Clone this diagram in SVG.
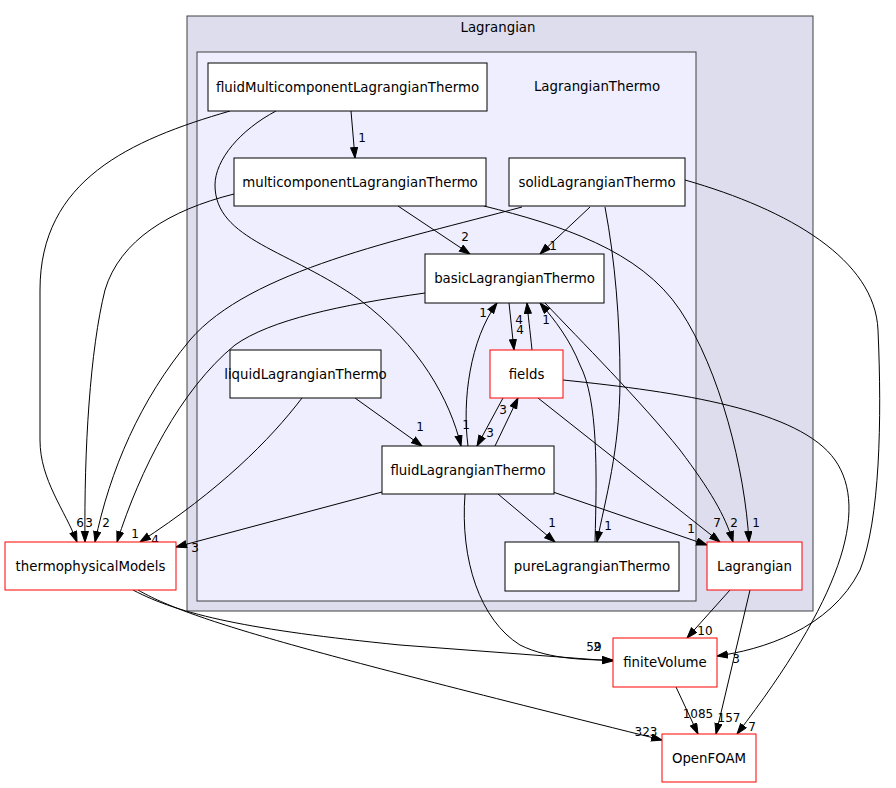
<svg xmlns="http://www.w3.org/2000/svg" width="896" height="788" viewBox="0 0 896 788">
<defs>
<marker id="ah" markerWidth="12" markerHeight="10" refX="11" refY="4" orient="auto" markerUnits="userSpaceOnUse">
<path d="M0.5,0.5 L11,4 L0.5,7.5 z" fill="#000" stroke="#000" stroke-width="1"/>
</marker>
<style>
text{font-family:"DejaVu Sans","Liberation Sans",sans-serif;fill:#000}
.nt{font-size:13.33px;text-anchor:middle}
.lb{font-size:12px;text-anchor:middle}
.nb{fill:#fff;stroke:#000;stroke-width:1}
.nr{fill:#fff;stroke:#ff0000;stroke-width:1}
.e{fill:none;stroke:#000;stroke-width:1;marker-end:url(#ah)}
</style>
</defs>
<rect width="896" height="788" fill="#fff"/>
<g id="cluster_Lagrangian">
<rect x="187" y="16" width="626" height="595" fill="#ddddee" stroke="#404040"/>
<text class="nt" x="498" y="32">Lagrangian</text>
</g>
<g id="cluster_LagrangianThermo">
<rect x="197" y="52" width="499" height="549" fill="#eeeeff" stroke="#404040"/>
<text class="nt" x="597" y="91">LagrangianThermo</text>
</g>
<g id="edges">
<path class="e" d="M351,111 L355,158"/>
<path class="e" d="M230,111 C130,140 40,180 40,290 L40,440 C40,480 65,510 77,542"/>
<path class="e" d="M276,111 C240,130 215,160 215,185 C215,240 290,250 360,300 C420,345 450,400 461,446"/>
<path class="e" d="M234,194 C170,210 120,240 105,290 C90,350 84,450 85,542"/>
<path class="e" d="M398,206 L470,254"/>
<path class="e" d="M484,206 C560,225 640,250 680,310 C720,370 745,470 749,542"/>
<path class="e" d="M590,207 L540,254"/>
<path class="e" d="M522,207 C400,240 250,270 190,340 C140,400 110,470 95,542"/>
<path class="e" d="M605,207 C615,260 620,320 620,380 C620,450 605,500 597,542"/>
<path class="e" d="M685,180 C790,210 875,260 878,330 C882,420 880,520 860,570 C830,630 760,650 717,656"/>
<path class="e" d="M509,303 L514,350"/>
<path class="e" d="M532,350 C530,330 528,315 527,303"/>
<path class="e" d="M425,293 C340,305 270,320 235,345 C180,390 140,470 117,542"/>
<path class="e" d="M545,303 C580,340 640,400 680,450 C710,490 725,515 733,542"/>
<path class="e" d="M595,542 C597,470 598,400 580,365 C570,340 555,320 540,303"/>
<path class="e" d="M468,446 C462,400 470,340 497,303"/>
<path class="e" d="M503,398 L477,446"/>
<path class="e" d="M495,446 L518,398"/>
<path class="e" d="M355,398 L422,446"/>
<path class="e" d="M302,398 C270,440 220,490 140,542"/>
<path class="e" d="M538,398 L720,542"/>
<path class="e" d="M563,380 C680,392 800,410 835,460 C870,510 840,600 737,734"/>
<path class="e" d="M382,492 L176,547"/>
<path class="e" d="M498,494 L555,542"/>
<path class="e" d="M553,492 L707,545"/>
<path class="e" d="M465,494 C460,560 480,620 520,645 C550,660 590,660 613,660"/>
<path class="e" d="M133,590 C180,615 250,630 400,645 L613,661"/>
<path class="e" d="M138,590 C190,620 300,650 662,740"/>
<path class="e" d="M730,590 L687,638"/>
<path class="e" d="M750,590 L716,734"/>
<path class="e" d="M676,687 L698,734"/>
<text class="lb" x="362" y="142">1</text>
<text class="lb" x="80" y="527">6</text>
<text class="lb" x="89" y="527">3</text>
<text class="lb" x="106" y="527">2</text>
<text class="lb" x="135" y="538">1</text>
<text class="lb" x="155" y="544">4</text>
<text class="lb" x="195" y="552">3</text>
<text class="lb" x="466" y="429">1</text>
<text class="lb" x="465" y="241">2</text>
<text class="lb" x="756" y="527">1</text>
<text class="lb" x="734" y="527">2</text>
<text class="lb" x="717" y="527">7</text>
<text class="lb" x="691" y="533">1</text>
<text class="lb" x="553" y="250">1</text>
<text class="lb" x="608" y="530">1</text>
<text class="lb" x="552" y="527">1</text>
<text class="lb" x="546" y="324">1</text>
<text class="lb" x="519" y="324">4</text>
<text class="lb" x="520" y="334">4</text>
<text class="lb" x="483" y="317">1</text>
<text class="lb" x="490" y="437">3</text>
<text class="lb" x="503" y="414">3</text>
<text class="lb" x="420" y="431">1</text>
<text class="lb" x="736" y="663">3</text>
<text class="lb" x="594" y="651">59</text>
<text class="lb" x="597" y="651">2</text>
<text class="lb" x="646" y="736">323</text>
<text class="lb" x="705" y="635">10</text>
<text class="lb" x="729" y="722">157</text>
<text class="lb" x="698" y="718">1085</text>
<text class="lb" x="752" y="731">7</text>
</g>
<g id="fluidMulticomponentLagrangianThermo">
<rect class="nb" x="208" y="63" width="279" height="48"/>
<text class="nt" x="347.5" y="91.5">fluidMulticomponentLagrangianThermo</text>
</g>
<g id="multicomponentLagrangianThermo">
<rect class="nb" x="234" y="158" width="252" height="48"/>
<text class="nt" x="360" y="186.5">multicomponentLagrangianThermo</text>
</g>
<g id="solidLagrangianThermo">
<rect class="nb" x="509" y="158" width="176" height="48"/>
<text class="nt" x="597" y="186.5">solidLagrangianThermo</text>
</g>
<g id="basicLagrangianThermo">
<rect class="nb" x="425" y="254" width="179" height="49"/>
<text class="nt" x="514.5" y="283">basicLagrangianThermo</text>
</g>
<g id="fields">
<rect class="nr" x="490" y="350" width="73" height="48"/>
<text class="nt" x="526.5" y="378.5">fields</text>
</g>
<g id="liquidLagrangianThermo">
<rect class="nb" x="230" y="350" width="151" height="48"/>
<text class="nt" x="305.5" y="378.5">liquidLagrangianThermo</text>
</g>
<g id="fluidLagrangianThermo">
<rect class="nb" x="382" y="446" width="172" height="48"/>
<text class="nt" x="468" y="474.5">fluidLagrangianThermo</text>
</g>
<g id="pureLagrangianThermo">
<rect class="nb" x="505" y="542" width="174" height="49"/>
<text class="nt" x="592" y="571">pureLagrangianThermo</text>
</g>
<g id="Lagrangian">
<rect class="nr" x="707" y="542" width="95" height="48"/>
<text class="nt" x="754.5" y="570.5">Lagrangian</text>
</g>
<g id="thermophysicalModels">
<rect class="nr" x="5" y="542" width="171" height="48"/>
<text class="nt" x="90.5" y="570.5">thermophysicalModels</text>
</g>
<g id="finiteVolume">
<rect class="nr" x="613" y="638" width="104" height="49"/>
<text class="nt" x="665" y="667">finiteVolume</text>
</g>
<g id="OpenFOAM">
<rect class="nr" x="662" y="734" width="94" height="48"/>
<text class="nt" x="709" y="762.5">OpenFOAM</text>
</g>
</svg>
